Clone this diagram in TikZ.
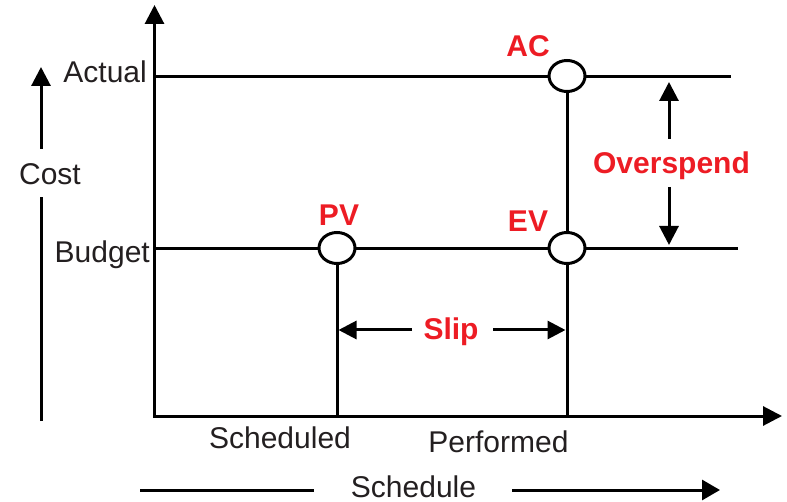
\documentclass[tikz,border=0pt]{standalone}
\usepackage{fontspec}
\setmainfont{Liberation Sans}
\usetikzlibrary{arrows.meta,shapes.geometric}
\definecolor{lblred}{RGB}{237,28,36}
\definecolor{ink}{RGB}{35,31,32}
\tikzset{
  line/.style={line width=3pt, draw=black},
  bigtip/.style={-{Triangle[width=19pt,length=19pt]}},
  midtip/.style={-{Triangle[width=18pt,length=18pt]}},
  marker/.style={ellipse, draw=black, line width=3pt, fill=white, minimum width=36pt, minimum height=31pt, inner sep=0pt},
  plain/.style={inner sep=0pt, anchor=base, text=ink, font=\fontsize{30}{36}\selectfont},
  redlbl/.style={inner sep=0pt, anchor=base, text=lblred, font=\fontsize{30}{36}\selectfont\bfseries},
}
\begin{document}
\begin{tikzpicture}[x=1pt,y=-1pt]
\useasboundingbox (0,0) rectangle (787,502);
% axes
\coordinate (O) at (154.5,416);
\coordinate (Ytop) at (154.5,5);
\coordinate (Xend) at (782,416);
\draw[line, line join=miter, {Triangle[width=19pt,length=19pt]}-{Triangle[width=19pt,length=19pt]}] (Ytop) -- (O) -- (Xend);
% level lines
\coordinate (aL) at (154.5,77);
\coordinate (aR) at (731,77);
\coordinate (bL) at (154.5,249);
\coordinate (bR) at (738,249);
\draw[line] (aL) -- (aR);
\draw[line] (bL) -- (bR);
% markers positions
\coordinate (pvC) at (337,248);
\coordinate (acC) at (567,76);
\coordinate (evC) at (567,248);
\draw[line] (pvC) -- (pvC |- O);
\draw[line] (acC) -- (acC |- O);
\node[marker] (PVm) at (pvC) {};
\node[marker] (ACm) at (acC) {};
\node[marker] (EVm) at (evC) {};
% labels of markers
\node[redlbl] (AC) at (528,57) {AC};
\node[redlbl] (EV) at (528,232) {EV};
\node[redlbl] (PV) at (339,226) {PV};
% overspend
\node[redlbl] (over) at (671.5,174) {Overspend};
\coordinate (o1) at (669,139);
\coordinate (o2) at (669,82);
\coordinate (o3) at (669,187);
\coordinate (o4) at (669,245);
\draw[line, bigtip] (o1) -- (o2);
\draw[line, bigtip] (o3) -- (o4);
% slip
\node[redlbl] (slip) at (451,340) {Slip};
\coordinate (s1) at (412,330);
\coordinate (s2) at (338.5,330);
\coordinate (s3) at (493,330);
\coordinate (s4) at (565.5,330);
\draw[line, midtip] (s1) -- (s2);
\draw[line, midtip] (s3) -- (s4);
% axis labels
\node[plain, anchor=base east] (actual) at (147,83) {Actual};
\node[plain, anchor=base east] (budget) at (150,263) {Budget};
\node[plain] (cost) at (50,185) {Cost};
\node[plain] (sched) at (280,448) {Scheduled};
\node[plain] (perf) at (498.5,452) {Performed};
\node[plain] (schedule) at (413.5,497) {Schedule};
% cost arrow
\coordinate (c1) at (41,421);
\coordinate (c2) at (41,197);
\coordinate (c3) at (41,149);
\coordinate (c4) at (41,67);
\draw[line] (c1) -- (c2);
\draw[line, bigtip] (c3) -- (c4);
% schedule arrow
\coordinate (h1) at (140,490);
\coordinate (h2) at (314,490);
\coordinate (h3) at (512,490);
\coordinate (h4) at (720,490);
\draw[line] (h1) -- (h2);
\draw[line, -{Triangle[width=20pt,length=18pt]}] (h3) -- (h4);
\end{tikzpicture}
\end{document}
